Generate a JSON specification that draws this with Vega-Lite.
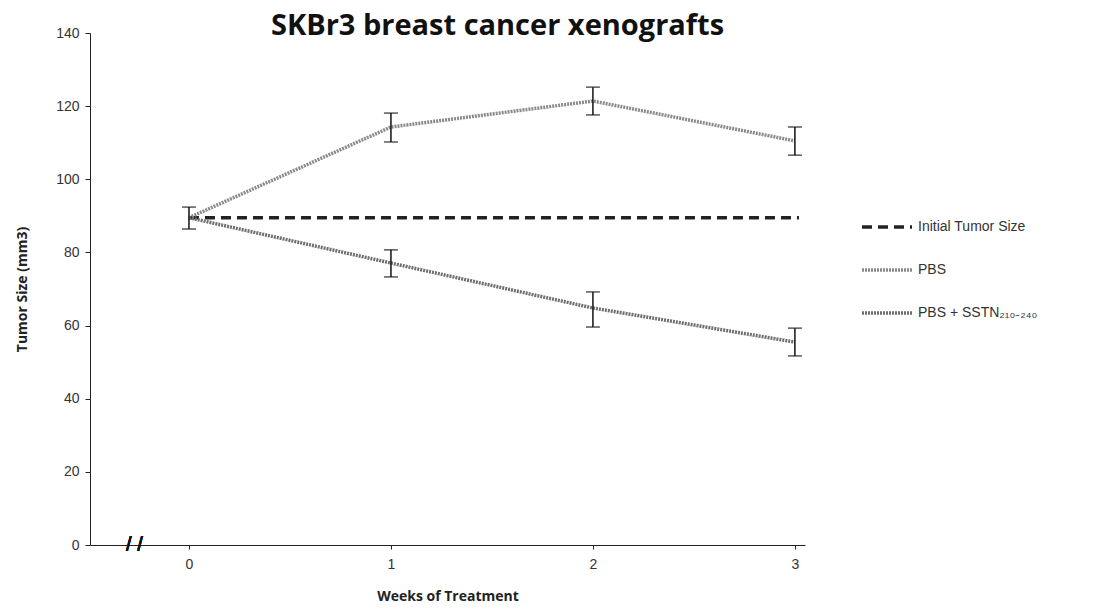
{
  "$schema": "https://vega.github.io/schema/vega-lite/v6.json",
  "autosize": "none",
  "width": 715,
  "height": 512,
  "padding": {"left": 90, "top": 33, "right": 289, "bottom": 68},
  "background": "white",
  "title": {"text": "SKBr3 breast cancer xenografts", "font": "Open Sans", "fontSize": 29, "fontWeight": "bold", "color": "#111", "anchor": "middle", "dx": 50, "offset": -44, "baseline": "bottom"},
  "config": {
    "view": {"stroke": null},
    "axis": {"labelFont": "Liberation Sans", "labelFontSize": 14, "labelColor": "#333", "titleFont": "Open Sans", "titleFontSize": 14, "titleFontWeight": "bold", "titleColor": "#222", "domainColor": "#222", "tickColor": "#222", "grid": false}
  },
  "data": {"values": [
    {"series": "Initial Tumor Size", "week": 0, "size": 89.5},
    {"series": "Initial Tumor Size", "week": 3.02, "size": 89.5},
    {"series": "PBS", "week": 0, "size": 89.5, "lo": 86.4, "hi": 92.4},
    {"series": "PBS", "week": 1, "size": 114.3, "lo": 110.2, "hi": 118.1},
    {"series": "PBS", "week": 2, "size": 121.4, "lo": 117.6, "hi": 125.2},
    {"series": "PBS", "week": 3, "size": 110.5, "lo": 106.6, "hi": 114.3},
    {"series": "PBS + SSTN₂₁₀₋₂₄₀", "week": 0, "size": 89.5},
    {"series": "PBS + SSTN₂₁₀₋₂₄₀", "week": 1, "size": 77.1, "lo": 73.3, "hi": 80.7},
    {"series": "PBS + SSTN₂₁₀₋₂₄₀", "week": 2, "size": 64.8, "lo": 59.6, "hi": 69.2},
    {"series": "PBS + SSTN₂₁₀₋₂₄₀", "week": 3, "size": 55.5, "lo": 51.7, "hi": 59.3}
  ]},
  "layer": [
    {
      "mark": {"type": "line", "strokeWidth": 3.5},
      "encoding": {
        "x": {"field": "week", "type": "quantitative", "scale": {"domain": [-0.49, 3.05], "nice": false, "zero": false},
              "axis": {"values": [0, 1, 2, 3], "format": "d", "title": "Weeks of Treatment", "titlePadding": 18, "tickSize": 4, "labelPadding": 8}},
        "y": {"field": "size", "type": "quantitative", "scale": {"domain": [0, 140], "nice": false},
              "axis": {"values": [0, 20, 40, 60, 80, 100, 120, 140], "title": "Tumor Size (mm3)", "titlePadding": 26, "tickSize": 5, "labelPadding": 6}},
        "color": {"field": "series", "type": "nominal", "sort": ["Initial Tumor Size", "PBS", "PBS + SSTN₂₁₀₋₂₄₀"],
                  "scale": {"domain": ["Initial Tumor Size", "PBS", "PBS + SSTN₂₁₀₋₂₄₀"], "range": ["#222222", "#8a8a8a", "#6e6e6e"]},
                  "legend": {"title": null, "orient": "none", "legendX": 770, "legendY": 167, "symbolType": "stroke", "symbolSize": 2500, "symbolStrokeWidth": 3.5, "labelFont": "Liberation Sans", "labelFontSize": 14, "labelColor": "#333", "rowPadding": 9, "labelOffset": 4}},
        "strokeDash": {"field": "series", "type": "nominal",
                  "scale": {"domain": ["Initial Tumor Size", "PBS", "PBS + SSTN₂₁₀₋₂₄₀"], "range": [[10, 6], [2, 1], [2, 1]]},
                  "legend": {"title": null, "orient": "none", "legendX": 770, "legendY": 167, "symbolType": "stroke", "symbolSize": 2500, "symbolStrokeWidth": 3.5, "labelFont": "Liberation Sans", "labelFontSize": 14, "labelColor": "#333", "rowPadding": 9, "labelOffset": 4}}
      }
    },
    {
      "transform": [{"filter": "isValid(datum.lo)"}],
      "mark": {"type": "errorbar", "ticks": {"size": 14, "thickness": 1.5}, "color": "#111", "thickness": 1.5},
      "encoding": {
        "x": {"field": "week", "type": "quantitative"},
        "y": {"field": "lo", "type": "quantitative", "title": "Tumor Size (mm3)"},
        "y2": {"field": "hi"}
      }
    },
    {
      "mark": {"type": "text", "fontSize": 20, "font": "Liberation Sans", "color": "#111", "baseline": "middle", "align": "center"},
      "encoding": {
        "x": {"datum": -0.27},
        "y": {"datum": 0},
        "text": {"value": "/   /"}
      }
    }
  ]
}
